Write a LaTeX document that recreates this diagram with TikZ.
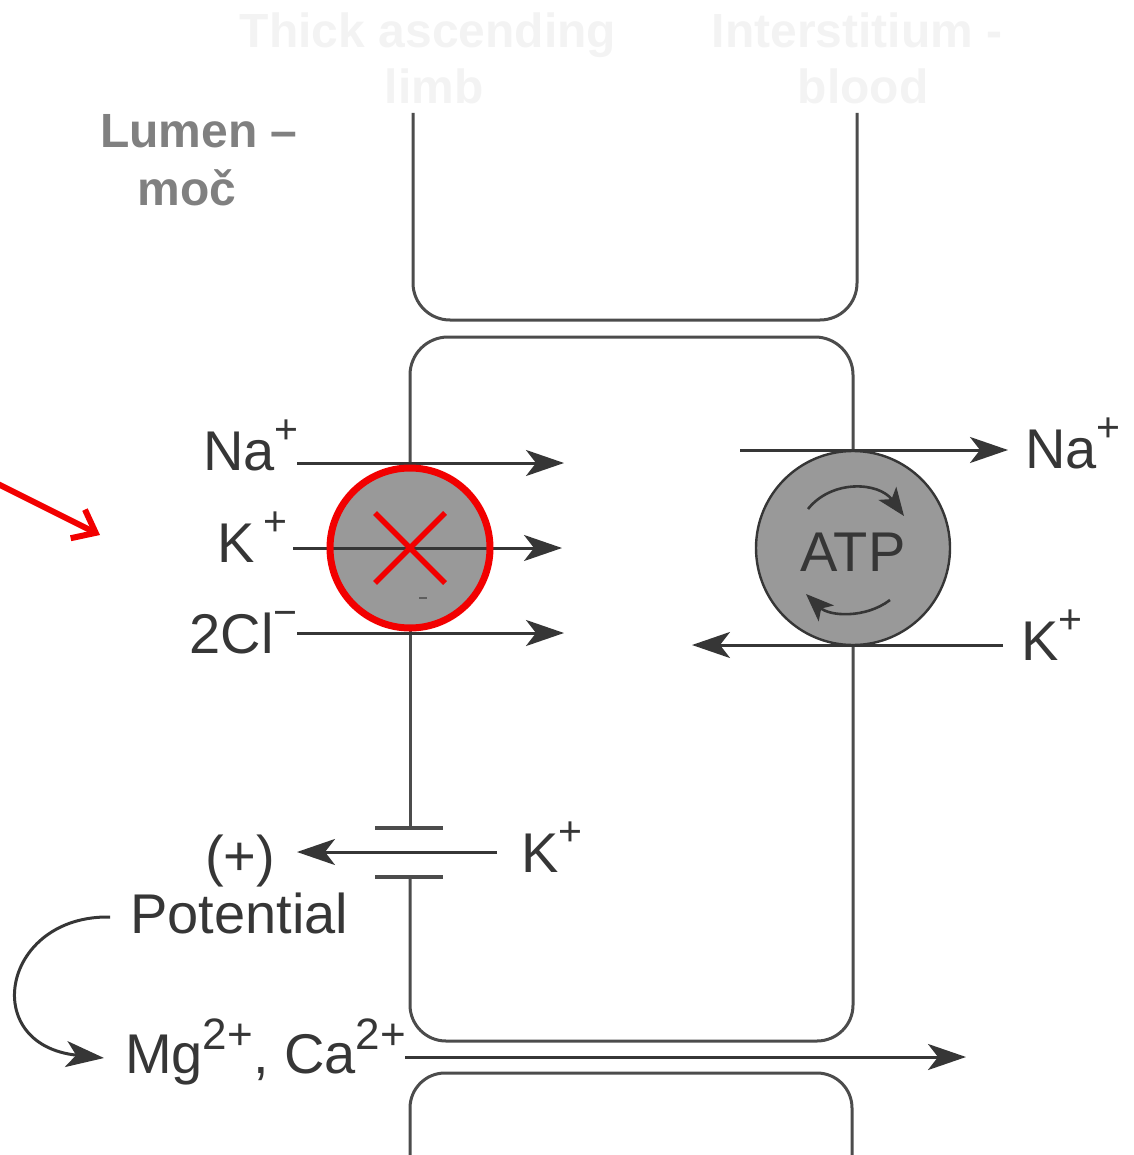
\documentclass[tikz,border=0pt]{standalone}
\usepackage{fontspec}
\setmainfont{Liberation Sans}
\usetikzlibrary{arrows.meta}
\definecolor{ink}{HTML}{363636}
\definecolor{wallc}{HTML}{4C4C4C}
\definecolor{padfill}{HTML}{999999}
\definecolor{faint}{HTML}{F3F3F3}
\definecolor{lumenc}{HTML}{808080}
\definecolor{redx}{HTML}{F20000}
\newcommand\upsc[1]{\raisebox{0.47em}{\fontsize{41}{41}\selectfont #1}}
\newcommand\upsm[1]{\raisebox{0.42em}{\fontsize{44}{44}\selectfont #1}}
\begin{document}
\begin{tikzpicture}[x=1pt,y=-1pt,
  wall/.style={draw=wallc, line width=3pt},
  flow/.style={draw=ink, line width=3pt, -{Stealth[length=38pt,width=26pt,inset=10pt]}},
  rot/.style={draw=ink, line width=2.6pt, -{Stealth[length=28pt,width=22pt,inset=7pt]}},
  plate/.style={draw=wallc, line width=3.2pt},
  lbl/.style={text=ink, inner sep=0pt, font=\fontsize{56}{60}\selectfont},
  title/.style={text=faint, inner sep=0pt, font=\fontsize{48}{56}\selectfont\bfseries},
  lumen/.style={text=lumenc, inner sep=0pt, font=\fontsize{48}{56}\selectfont\bfseries},
  pump/.style={circle, fill=padfill, inner sep=0pt},
  redring/.style={draw=redx, line width=7pt},
  redline/.style={draw=redx, line width=5.5pt},
]
\useasboundingbox (0,0) rectangle (1133,1155);

% faint titles
\node[title, anchor=base] (t1a) at (428,48) {Thick ascending};
\node[title, anchor=base] (t1b) at (434,104) {limb};
\node[title, anchor=base] (t2a) at (857,48) {Interstitium -};
\node[title, anchor=base] (t2b) at (863,104) {blood};

% lumen label
\node[lumen, anchor=base west] (lum1) at (100,148) {Lumen –};
\node[lumen, anchor=base] (lum2) at (187,206) {moč};

% pumps
\node[pump, minimum size=158pt] (nkcc) at (410,548) {};
\node[pump, draw=ink, line width=2.4pt, minimum size=194pt] (atp) at (853,548) {};

% top cell
\draw[wall, rounded corners=37pt] (413,113) -- (413,320) -- (857,320) -- (857,113);
% middle cell
\draw[wall, rounded corners=38pt] (nkcc.north) -- (410,337) -- (853,337) -- (atp.north);
\coordinate (bat1) at (410,828);
\coordinate (bat2) at (410,877);
\draw[wall] (nkcc.south) -- (bat1);
\draw[wall, rounded corners=36pt] (bat2) -- (410,1041) -- (853,1041) -- (atp.south);
% lower cell
\draw[wall, rounded corners=35pt] (410,1157) -- (410,1073) -- (852,1073) -- (852,1157);

% battery (K+ channel)
\coordinate (p1a) at (375,828); \coordinate (p1b) at (443,828);
\coordinate (p2a) at (375,877); \coordinate (p2b) at (443,877);
\draw[plate] (p1a) -- (p1b);
\draw[plate] (p2a) -- (p2b);

% NKCC flows
\coordinate (naS) at (297,463); \coordinate (naE) at (564,463);
\coordinate (kS) at (293,548);  \coordinate (kE) at (562,548);
\coordinate (clS) at (297,633); \coordinate (clE) at (564,633);
\draw[flow] (naS) -- (naE);
\draw[flow] (kS) -- (kE);
\draw[flow] (clS) -- (clE);
\draw[draw=ink!80, line width=2.5pt] (419,598) -- (427,598);

% ATP pump flows
\coordinate (naRS) at (740,450); \coordinate (naRE) at (1008,450);
\coordinate (kRS) at (1003,645); \coordinate (kRE) at (692,645);
\draw[flow] (naRS) -- (naRE);
\draw[flow] (kRS) -- (kRE);
\node[lbl, anchor=center] (atptext) at (853,552) {ATP};
\coordinate (r1s) at (808,509); \coordinate (r1e) at (904,516);
\coordinate (r2s) at (890,600); \coordinate (r2e) at (806,594);
\draw[rot] (r1s) .. controls (832,479) and (879,482) .. (r1e);
\draw[rot] (r2s) .. controls (865,619) and (829,616) .. (r2e);

% K+ channel flow
\coordinate (kcS) at (497,852); \coordinate (kcE) at (297,852);
\draw[flow] (kcS) -- (kcE);

% paracellular flow
\coordinate (mgS) at (405,1057); \coordinate (mgE) at (966,1057);
\draw[flow] (mgS) -- (mgE);

% potential curve
\coordinate (cvS) at (110,917); \coordinate (cvE) at (104,1058);
\draw[flow] (cvS) .. controls (2,915) and (-22,1045) .. (cvE);

% red ring and cross
\draw[redring] (nkcc.center) circle[radius=80];
\coordinate (x1) at (375,513); \coordinate (x2) at (445,583);
\coordinate (x3) at (445,513); \coordinate (x4) at (375,583);
\draw[redline] (x1) -- (x2);
\draw[redline] (x3) -- (x4);
\coordinate (rs) at (-4,483); \coordinate (rt) at (100,535);
\draw[redline, line width=6pt, -{Straight Barb[length=20pt,width=32pt]}] (rs) -- (rt);

% labels
\node[lbl, anchor=base east] (lNa) at (299,470) {Na\upsc{+}};
\node[lbl, anchor=base east] (lK) at (288,562) {K\,\upsc{+}};
\node[lbl, anchor=base east] (lCl) at (298,653) {2Cl\upsc{−}};
\node[lbl, anchor=base west] (rNa) at (1025,468) {Na\upsc{+}};
\node[lbl, anchor=base west] (rK) at (1021,660) {K\upsc{+}};
\node[lbl, anchor=base west] (cK) at (521,872) {K\upsc{+}};
\node[lbl, anchor=base] (plus) at (240,875) {(+)};
\node[lbl, anchor=base west] (pot) at (130,933) {Potential};
\node[lbl, anchor=base west] (mg) at (125,1073) {Mg\upsm{2+}, Ca\upsm{2+}};
\end{tikzpicture}
\end{document}
